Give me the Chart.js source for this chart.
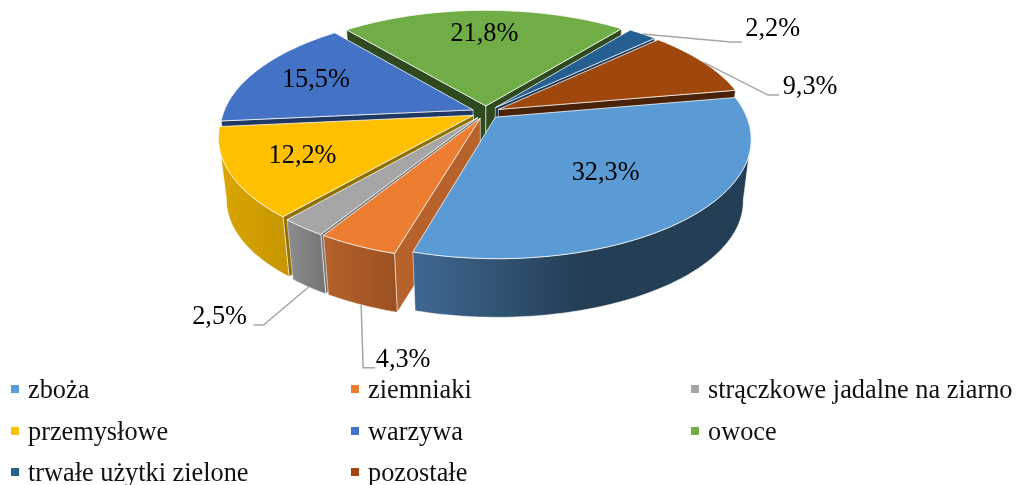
<!DOCTYPE html>
<html lang="pl">
<head>
<meta charset="utf-8">
<title>Struktura</title>
<script src="https://cdn.jsdelivr.net/npm/chart.js@4"></script>
<style>
  html, body { margin: 0; padding: 0; background: #fff; }
  #wrap { position: relative; width: 1017px; height: 485px; overflow: hidden; }
  #chart { position: absolute; left: 0; top: 0; }
  .key { position: absolute; font: 26.3px/30px "Liberation Serif", serif; color: #111; white-space: nowrap; }
  .key i { position: absolute; left: -17px; top: 10px; width: 8px; height: 8px; }
</style>
</head>
<body>
<div id="wrap">
  <canvas id="chart" width="1017" height="485"></canvas>
</div>
<script>
(() => {
  "use strict";

  const categories = ["zboża", "ziemniaki", "strączkowe jadalne na ziarno", "przemysłowe",
    "warzywa", "owoce", "trwałe użytki zielone", "pozostałe"];
  const shares = [32.3, 4.3, 2.5, 12.2, 15.5, 21.8, 2.2, 9.3];
  const shareLabels = ["32,3%", "4,3%", "2,5%", "12,2%", "15,5%", "21,8%", "2,2%", "9,3%"];

  // colours: top face, radial wall, outer wall gradient (left -> right)
  const topColors = ["#5b9bd5", "#ed7d31", "#a5a5a5", "#ffc000", "#4472c4", "#70ad47", "#255e91", "#9e480e"];
  const sideColors = ["#2a4d6e", "#b7622a", "#7c7c7c", "#8f7000", "#1f3864", "#2f4a1e", "#16385a", "#4a2208"];
  const wallFrom = ["#3f6891", "#b5622b", "#8e8e8e", "#dba600", "#2f5597", "#4b7530", "#1a4266", "#6e3209"];
  const wallTo = ["#233e55", "#9b5020", "#737373", "#c69500", "#2f5597", "#4b7530", "#1a4266", "#6e3209"];

  // back to front, each slice hides the side wall of the one before it
  const drawOrder = [5, 6, 7, 4, 3, 2, 1, 0];

  // tilted disc seen in perspective
  const view = { cx: 486, cy: 112.3, rx: 249.5, ry: 114.6, k: 0.177, depth: 63, shrink: 0.97, explode: 0.056 };

  // text placement: inside labels are at a fraction of the radius, outside ones hang on a leader line
  const insideAt = { 0: [0.60, 0], 3: [0.72, 0], 4: [0.72, 0], 5: [0.72, 0] };
  const leaders = {
    1: { level: 1, elbow: [2, 63], end: [14, 63], text: [42, 55] },
    2: { level: 1, elbow: [-45, 38], end: [-55, 38], text: [-89, 30] },
    6: { level: 0, elbow: [88, 8], end: [99, 8], text: [130, -5] },
    7: { level: 0, elbow: [65, 33], end: [76, 33], text: [107, 25] }
  };

  const project = (u, v, level) => {
    const s = (1 / (1 - view.k * v)) * (level ? view.shrink : 1);
    return [view.cx + view.rx * u * s, view.cy + view.ry * v * s + level * view.depth];
  };

  const sliceGeometry = (arc) => {
    const { startAngle, endAngle } = arc.getProps(["startAngle", "endAngle"], true);
    const mid = (startAngle + endAngle) / 2;
    return {
      a0: startAngle, a1: endAngle, mid,
      ox: view.explode * Math.cos(mid),
      oy: view.explode * Math.sin(mid)
    };
  };

  const rimPoint = (g, a, level, r = 1) => project(g.ox + r * Math.cos(a), g.oy + r * Math.sin(a), level);

  const trace = (ctx, pts) => {
    ctx.beginPath();
    pts.forEach((p, i) => (i ? ctx.lineTo(p[0], p[1]) : ctx.moveTo(p[0], p[1])));
    ctx.closePath();
  };

  const rimRange = (g, a0, a1, level) => {
    const steps = Math.max(2, Math.ceil((a1 - a0) / 0.02));
    const pts = [];
    for (let i = 0; i <= steps; i++) pts.push(rimPoint(g, a0 + (a1 - a0) * i / steps, level));
    return pts;
  };

  function drawRadialWall(ctx, g, a, color) {
    const apexTop = project(g.ox, g.oy, 0);
    const apexBottom = project(g.ox, g.oy, 1);
    trace(ctx, [apexTop, rimPoint(g, a, 0), rimPoint(g, a, 1), apexBottom]);
    ctx.fillStyle = color;
    ctx.fill();
    ctx.strokeStyle = "rgba(255,255,255,0.55)";
    ctx.lineWidth = 1;
    ctx.stroke();
  }

  // only the part of the rim that faces the viewer gets a wall
  function drawOuterWall(ctx, g, i) {
    const minA = Math.asin(view.k);
    const maxA = Math.PI - minA;
    const twoPi = Math.PI * 2;
    for (let turn = -1; turn <= 1; turn++) {
      const a0 = Math.max(g.a0, minA + turn * twoPi);
      const a1 = Math.min(g.a1, maxA + turn * twoPi);
      if (a1 <= a0) continue;
      const top = rimRange(g, a0, a1, 0);
      const bottom = rimRange(g, a0, a1, 1).reverse();
      const xs = top.concat(bottom).map(p => p[0]);
      const grad = ctx.createLinearGradient(Math.min(...xs), 0, Math.max(...xs), 0);
      grad.addColorStop(0, wallFrom[i]);
      grad.addColorStop(i === 0 ? 0.5 : 1, wallTo[i]);
      if (i === 0) grad.addColorStop(1, wallTo[i]);
      trace(ctx, top.concat(bottom));
      ctx.fillStyle = grad;
      ctx.fill();
      ctx.strokeStyle = "rgba(255,255,255,0.5)";
      ctx.lineWidth = 1;
      ctx.stroke();
    }
  }

  function drawTop(ctx, g, i) {
    trace(ctx, [project(g.ox, g.oy, 0)].concat(rimRange(g, g.a0, g.a1, 0)));
    ctx.fillStyle = topColors[i];
    ctx.fill();
    ctx.strokeStyle = "rgba(255,255,255,0.75)";
    ctx.lineWidth = 1;
    ctx.stroke();
  }

  const pie3d = {
    id: "pie3d",
    beforeDatasetDraw(chart) {
      const ctx = chart.ctx;
      const arcs = chart.getDatasetMeta(0).data;
      ctx.save();
      ctx.lineJoin = "round";
      drawOrder.forEach(i => {
        const g = sliceGeometry(arcs[i]);
        if (Math.cos(g.a0) < 0) drawRadialWall(ctx, g, g.a0, sideColors[i]);
        if (Math.cos(g.a1) > 0) drawRadialWall(ctx, g, g.a1, sideColors[i]);
        drawOuterWall(ctx, g, i);
        drawTop(ctx, g, i);
      });
      ctx.restore();
      return false;
    },
    afterDatasetsDraw(chart) {
      const ctx = chart.ctx;
      const arcs = chart.getDatasetMeta(0).data;
      ctx.save();
      ctx.font = '26.3px "Liberation Serif", serif';
      ctx.fillStyle = "#000";
      ctx.textAlign = "center";
      ctx.textBaseline = "middle";
      arcs.forEach((arc, i) => {
        const g = sliceGeometry(arc);
        if (leaders[i]) {
          const l = leaders[i];
          const start = rimPoint(g, g.mid, l.level);
          ctx.beginPath();
          ctx.moveTo(start[0], start[1]);
          ctx.lineTo(start[0] + l.elbow[0], start[1] + l.elbow[1]);
          ctx.lineTo(start[0] + l.end[0], start[1] + l.end[1]);
          ctx.strokeStyle = "#a6a6a6";
          ctx.lineWidth = 1.5;
          ctx.stroke();
          ctx.fillText(shareLabels[i], start[0] + l.text[0], start[1] + l.text[1]);
        } else {
          const [r] = insideAt[i];
          const p = rimPoint(g, g.mid, 0, r);
          ctx.fillText(shareLabels[i], p[0], p[1]);
        }
      });
      ctx.restore();
    }
  };

  new Chart(document.querySelector("#chart"), {
    type: "pie",
    data: {
      labels: categories,
      datasets: [{ data: shares, backgroundColor: topColors, borderWidth: 0 }]
    },
    options: {
      responsive: false,
      animation: false,
      rotation: 80,
      events: [],
      plugins: { legend: { display: false }, tooltip: { enabled: false } }
    },
    plugins: [pie3d]
  });

  // Legend, three columns like the original
  const wrap = document.querySelector("#wrap");
  categories.forEach((name, i) => {
    const key = document.createElement("div");
    key.className = "key";
    key.style.left = 28 + 340 * (i % 3) + "px";
    key.style.top = 375 + 41.5 * Math.floor(i / 3) + "px";
    key.innerHTML = `<i style="background:${topColors[i]}"></i>${name}`;
    wrap.appendChild(key);
  });
})();
</script>
</body>
</html>
